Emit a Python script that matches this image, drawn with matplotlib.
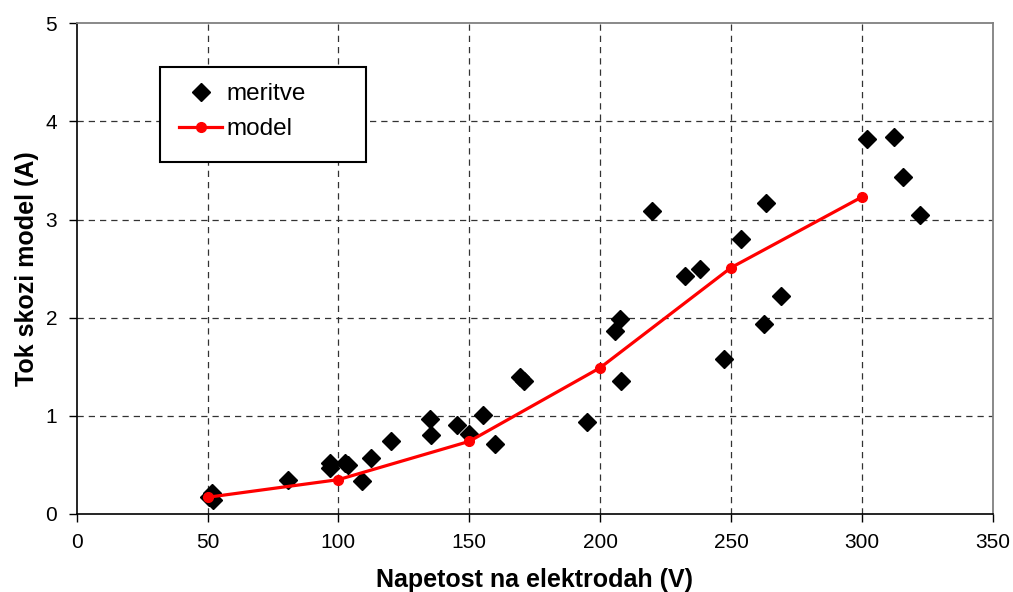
import matplotlib
matplotlib.use("Agg")
import matplotlib.pyplot as plt
from matplotlib.patches import Rectangle

plt.rcParams["font.family"] = ["Liberation Sans", "DejaVu Sans"]

# measured points
meritve_x = [50.6, 51.7, 52.1, 80.7, 96.6, 96.6, 102.7, 103.5, 109.2, 112.3,
             120.2, 135.1, 135.5, 145.4, 149.9, 155.3, 159.8, 169.5, 170.9,
             194.8, 205.5, 207.4, 208.1, 219.9, 232.5, 238.2, 247.3, 253.8,
             262.6, 263.3, 269.0, 302.1, 312.4, 315.8, 322.3]
meritve_y = [0.17, 0.21, 0.14, 0.35, 0.52, 0.47, 0.52, 0.50, 0.34, 0.57,
             0.74, 0.97, 0.80, 0.91, 0.81, 1.01, 0.71, 1.40, 1.35,
             0.94, 1.86, 1.99, 1.36, 3.09, 2.42, 2.50, 1.58, 2.80,
             1.94, 3.17, 2.22, 3.82, 3.84, 3.43, 3.05]

# model curve
model_x = [50, 100, 150, 200, 250, 300]
model_y = [0.17, 0.35, 0.74, 1.49, 2.51, 3.23]

W, H = 1013, 592
fig = plt.figure(figsize=(W / 100, H / 100), dpi=100)
ax = fig.add_axes([0.0757, 0.1318, 0.9043, 0.8288])

ax.plot(meritve_x, meritve_y, linestyle="none", marker="D", markersize=8.8,
        color="black", label="meritve", zorder=3)
ax.plot(model_x, model_y, color="#ff0000", linewidth=2.3, marker="o",
        markersize=7, label="model", zorder=4)

ax.set_xlim(0, 350)
ax.set_ylim(0, 5)
ax.set_xticks(range(0, 351, 50))
ax.set_yticks(range(0, 6))

# dashed grid, only at inner ticks
for xv in range(50, 350, 50):
    ax.axvline(xv, color="#333333", linestyle=(0, (5, 4)), linewidth=0.9,
               zorder=1)
for yv in range(1, 5):
    ax.axhline(yv, color="#333333", linestyle=(0, (5, 4)), linewidth=0.9,
               zorder=1)

for side in ("top", "right"):
    ax.spines[side].set_color("#808080")
    ax.spines[side].set_linewidth(1.3)
for side in ("left", "bottom"):
    ax.spines[side].set_color("black")
    ax.spines[side].set_linewidth(1.2)

ax.tick_params(direction="out", length=6, width=1, labelsize=15,
               pad=8, colors="black")

ax.set_xlabel("Napetost na elektrodah (V)", fontsize=18, fontweight="bold",
              labelpad=11)
ax.set_ylabel("Tok skozi model (A)", fontsize=18, fontweight="bold",
              labelpad=5)

# legend box drawn separately so its padding can be uneven
box = Rectangle((160 / W, 1 - 162 / H), 206 / W, 95 / H,
                transform=fig.transFigure, facecolor="white",
                edgecolor="black", linewidth=1.5, zorder=5)
ax.add_patch(box)
box.set_clip_on(False)

leg = ax.legend(loc="upper left", bbox_to_anchor=(179 / W, 1 - 83 / H),
                bbox_transform=fig.transFigure, fontsize=17.5, frameon=False,
                borderpad=0, handlelength=1.77, handletextpad=0.2,
                labelspacing=0.55, borderaxespad=0, numpoints=1)
leg.set_zorder(6)

fig.savefig("out.png", dpi=100)
